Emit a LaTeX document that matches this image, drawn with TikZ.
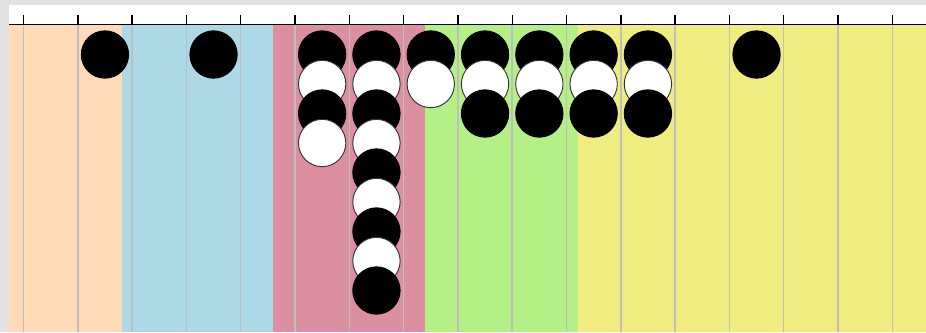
\documentclass[tikz,border=0pt]{standalone}
\usepackage{xcolor}
\usepackage{tikz}

\definecolor{bggray}{RGB}{226,226,226}
\definecolor{peachband}{RGB}{255,218,185}
\definecolor{blueband}{RGB}{173,216,230}
\definecolor{pinkband}{RGB}{220,143,160}
\definecolor{greenband}{RGB}{180,240,134}
\definecolor{yellowband}{RGB}{240,236,128}
\definecolor{gridgray}{RGB}{190,190,190}

\tikzset{
  gridline/.style={gridgray,line width=1.3pt},
  axisline/.style={black,line width=1.2pt},
  stoneB/.style={circle,draw=black,fill=black,line width=0.8pt,
    minimum size=1.42cm,inner sep=0pt,outer sep=0pt},
  stoneW/.style={stoneB,draw=black!80,fill=white}
}

\begin{document}
\begin{tikzpicture}[x=0.03cm,y=-0.03cm]
			\def\xo{23.5}
			\def\colw{54.3}
			\def\ytop{54.5}
			\def\rowh{29.5}
			
			\useasboundingbox (0,0) rectangle (926,332);
			\fill[bggray] (0,0) rectangle (926,332);
			\fill[white] (9,5) rectangle (926,25);
			
			% coloured bands
			\fill[peachband] (9,25) rectangle (122,332);
			\fill[blueband] (122,25) rectangle (273,332);
			\fill[pinkband] (273,25) rectangle (424.5,332);
			\fill[greenband] (424.5,25) rectangle (577.5,332);
			\fill[yellowband] (577.5,25) rectangle (926,332);
			
			\foreach \k in {0,...,16}
				\draw[gridline] ({\xo+\k*\colw},25) -- ({\xo+\k*\colw},332);
			
			\draw[axisline] (9,24.5) -- (926,24.5);
			\foreach \k in {0,...,16}
				\draw[axisline] ({\xo+\k*\colw},15) -- ({\xo+\k*\colw},24.5);
			
			% stones: column/row/colour
			\foreach \c/\r/\s in {1/0/B, 3/0/B,
				5/0/B, 5/1/W, 5/2/B, 5/3/W,
				6/0/B, 6/1/W, 6/2/B, 6/3/W, 6/4/B, 6/5/W, 6/6/B, 6/7/W, 6/8/B,
				7/0/B, 7/1/W,
				8/0/B, 8/1/W, 8/2/B,
				9/0/B, 9/1/W, 9/2/B,
				10/0/B, 10/1/W, 10/2/B,
				11/0/B, 11/1/W, 11/2/B,
				13/0/B}
				\node[stone\s] (s\c-\r) at ({\xo+(\c+0.5)*\colw},{\ytop+\r*\rowh}) {};
		\end{tikzpicture}
\end{document}
